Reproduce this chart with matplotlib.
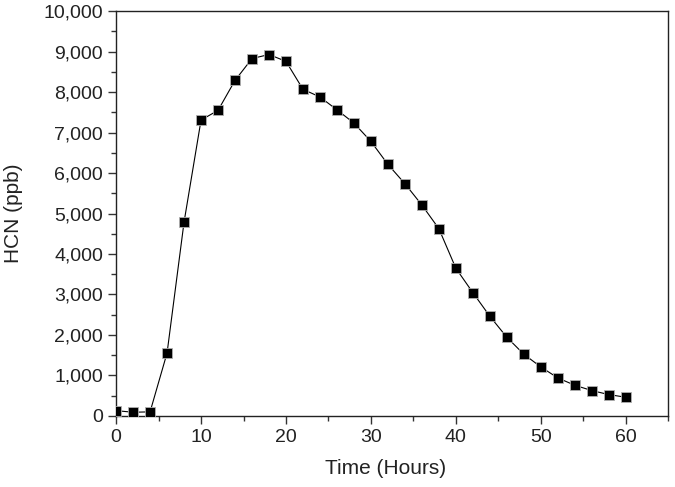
import matplotlib
matplotlib.use("Agg")
import matplotlib.pyplot as plt
from matplotlib.ticker import MultipleLocator, FuncFormatter

plt.rcParams['font.family'] = ['Liberation Sans', 'DejaVu Sans']

# Time in hours and HCN concentration in ppb
hours = [0, 2, 4, 6, 8, 10, 12, 14, 16, 18, 20, 22, 24, 26, 28, 30,
         32, 34, 36, 38, 40, 42, 44, 46, 48, 50, 52, 54, 56, 58, 60]
hcn_ppb = [130, 90, 100, 1555, 4790, 7310, 7550, 8290, 8830, 8930, 8760,
           8070, 7880, 7563, 7235, 6782, 6214, 5737, 5210, 4625, 3647,
           3045, 2461, 1943, 1523, 1210, 938, 757, 626, 527, 461]

fig = plt.figure(figsize=(6.75, 4.87), dpi=100)
ax = fig.add_axes([0.172, 0.146, 0.818, 0.831])

# first marker sits on the y axis and gets half clipped, like the original
ax.plot(hours, hcn_ppb, color='black', linewidth=0.8, marker='s',
        markersize=6.8, markerfacecolor='black', markeredgecolor='#b0b0b0',
        markeredgewidth=0.6, zorder=3)

ax.set_xlim(0, 65)
ax.set_ylim(0, 10000)
ax.xaxis.set_major_locator(MultipleLocator(10))
ax.xaxis.set_minor_locator(MultipleLocator(5))
ax.yaxis.set_major_locator(MultipleLocator(1000))
ax.yaxis.set_minor_locator(MultipleLocator(500))
ax.yaxis.set_major_formatter(FuncFormatter(lambda v, p: f"{int(v):,}"))

ax.tick_params(which='both', direction='out', top=False, right=False,
               labelsize=14, width=1, color='#333333', labelcolor='#222222')
ax.tick_params(which='major', length=5.5, pad=4)
ax.tick_params(which='minor', length=3.5)
for s in ax.spines.values():
    s.set_linewidth(1.0)
    s.set_color('#222222')

ax.set_xlabel("Time (Hours)", fontsize=15, color='#222222')
ax.set_ylabel("HCN (ppb)", fontsize=15, color='#222222')
ax.xaxis.set_label_coords(0.488, -0.106)
ax.yaxis.set_label_coords(-0.168, 0.5)

fig.savefig("out.png", dpi=100)
